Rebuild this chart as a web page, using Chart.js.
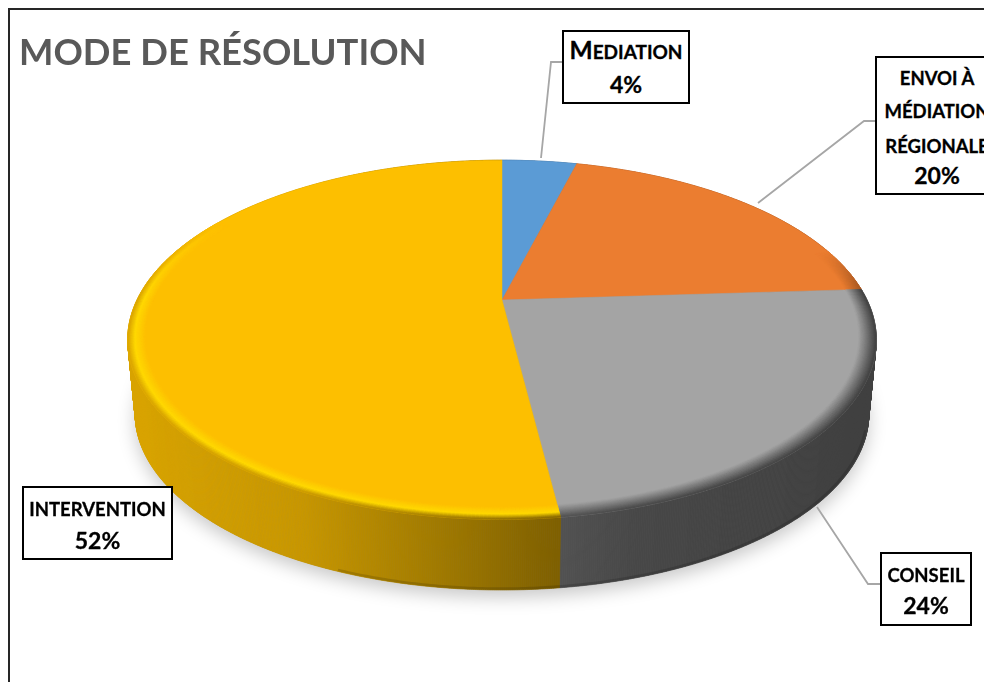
<!DOCTYPE html>
<html lang="fr">
<head>
    <meta charset="UTF-8">
    <title>Mode de résolution</title>
    <script src="https://cdn.jsdelivr.net/npm/chart.js"></script>
    <style>
        html, body { margin: 0; padding: 0; width: 984px; height: 682px; overflow: hidden; background: #fff; }
        canvas { position: absolute; left: 0; top: 0; }
        #frame { position: absolute; left: 8px; top: 8px; width: 1000px; height: 700px; border: 2px solid #262626; pointer-events: none; }
        .box {
            position: absolute; box-sizing: border-box; background: #fff; border: 2px solid #000;
            font-family: Lato, sans-serif; font-weight: 700; color: #000; text-align: center;
            -webkit-text-stroke: 0.3px #000;
        }
        .box div { position: absolute; left: 0; right: 0; line-height: 30px; height: 30px; white-space: nowrap; font-size: 18.5px; }
        .box div.pct { font-size: 23px; }
        .box div.caps { font-size: 19px; }
        .box div.caps::first-letter { font-size: 24.5px; }
    </style>
</head>
<body>
    <canvas id="pie" width="984" height="682"></canvas>
    <div id="frame"></div>
    <script>
        const categories = ['Mediation', 'Envoi à médiation régionale', 'Conseil', 'Intervention'];
        const values = [4, 20, 24, 52];
        const titleText = 'MODE DE RÉSOLUTION';
        const topColors = ['#5B9BD5', '#EB7D30', '#A4A4A4', '#FDBF00'];

        // side wall colours along x, only the last two slices show a wall
        const sideStops = [
            [[130, 0x3f, 0x6c, 0x95], [870, 0x3f, 0x6c, 0x95]],
            [[130, 0xa5, 0x57, 0x22], [870, 0xa5, 0x57, 0x22]],
            [[558, 0x52, 0x52, 0x52], [640, 0x47, 0x47, 0x47], [870, 0x40, 0x40, 0x40]],
            [[130, 0xd9, 0xa4, 0x00], [300, 0xc8, 0x97, 0x00], [420, 0xa6, 0x7e, 0x00], [558, 0x7f, 0x60, 0x00]]
        ];
        // the lit rim only shows on the yellow slice
        const rimHighlight = [null, null, null, [0xff, 0xd9, 0x00]];

        const labelBoxes = [
            { left: 562, top: 30, width: 128, height: 74, lines: [['MEDIATION', 3, 'caps'], [null, 37, 'pct']] },
            { left: 875, top: 56, width: 124, height: 139, lines: [['ENVOI À', 5], ['MÉDIATION', 38], ['RÉGIONALE', 73], [null, 102, 'pct']] },
            { left: 880, top: 552, width: 92, height: 74, lines: [['CONSEIL', 6], [null, 36, 'pct']] },
            { left: 22, top: 486, width: 151, height: 74, lines: [['INTERVENTION', 6], [null, 37, 'pct']] }
        ];
        const leaders = [
            [[541, 158], [551, 62], [562, 62]],
            [[758, 203], [864, 121], [875, 121]],
            [[817, 507], [868, 584], [880, 584]]
        ];

        // perspective view of the unit circle, the pie centre is not the ellipse centre
        const view = { x: 502, y: 300, a: 365, b: 170.8, k: 0.2214 };
        const floor = { y: 375, scale: 0.98 };
        const rimInner = 0.955;
        const STEP = Math.PI / 720;

        function project(angle, r, lower) {
            const u = Math.cos(angle) * r, v = Math.sin(angle) * r;
            const w = 1 - view.k * v;
            const s = lower ? floor.scale : 1;
            const y0 = lower ? floor.y : view.y;
            return [view.x + s * view.a * u / w, y0 + s * view.b * v / w];
        }

        function hexRgb(hex) {
            return [1, 3, 5].map(i => parseInt(hex.substr(i, 2), 16));
        }
        function mix(c1, c2, t) {
            return c1.map((c, i) => c + (c2[i] - c) * t);
        }
        function css(c) {
            return 'rgb(' + c.map(Math.round).join(',') + ')';
        }
        function sideColor(stops, x) {
            if (x <= stops[0][0]) return stops[0].slice(1);
            for (let i = 1; i < stops.length; i++) {
                if (x <= stops[i][0]) {
                    const t = (x - stops[i - 1][0]) / (stops[i][0] - stops[i - 1][0]);
                    return mix(stops[i - 1].slice(1), stops[i].slice(1), t);
                }
            }
            return stops[stops.length - 1].slice(1);
        }
        function clamp01(t) { return Math.max(0, Math.min(1, t)); }

        function quad(ctx, p1, p2, p3, p4, color) {
            ctx.fillStyle = color;
            ctx.strokeStyle = color;
            ctx.lineWidth = 0.7;
            ctx.beginPath();
            ctx.moveTo(p1[0], p1[1]);
            ctx.lineTo(p2[0], p2[1]);
            ctx.lineTo(p3[0], p3[1]);
            ctx.lineTo(p4[0], p4[1]);
            ctx.closePath();
            ctx.fill();
            ctx.stroke();
        }

        const pie3d = {
            id: 'pie3d',
            beforeDatasetDraw(chart, args) {
                const ctx = chart.ctx;
                const arcs = args.meta.data;
                ctx.save();

                // soft shadow under the disc
                ctx.save();
                ctx.shadowColor = 'rgba(0,0,0,0.22)';
                ctx.shadowBlur = 18;
                ctx.shadowOffsetY = 7;
                ctx.fillStyle = '#888';
                ctx.beginPath();
                for (let a = 0; a < Math.PI * 2; a += STEP * 4) {
                    const p = project(a, 1, true);
                    ctx.lineTo(p[0], p[1]);
                }
                ctx.closePath();
                ctx.fill();
                ctx.restore();

                // side walls
                arcs.forEach((arc, i) => {
                    for (let a = arc.startAngle; a < arc.endAngle; a += STEP) {
                        const b = Math.min(a + STEP, arc.endAngle);
                        const t1 = project(a, 1, false), t2 = project(b, 1, false);
                        const l1 = project(a, 1, true), l2 = project(b, 1, true);
                        quad(ctx, t1, t2, l2, l1, css(sideColor(sideStops[i], t1[0])));
                    }
                });

                // darker lip along the bottom of the wall
                ctx.lineWidth = 2.5;
                ctx.strokeStyle = 'rgba(0,0,0,0.14)';
                ctx.beginPath();
                for (let a = Math.PI * 0.1; a < Math.PI * 0.62; a += STEP * 2) {
                    const p = project(a, 0.995, true);
                    ctx.lineTo(p[0], p[1]);
                }
                ctx.stroke();

                // top faces
                arcs.forEach((arc, i) => {
                    ctx.fillStyle = topColors[i];
                    ctx.strokeStyle = topColors[i];
                    ctx.lineWidth = 0.5;
                    ctx.beginPath();
                    ctx.moveTo(view.x, view.y);
                    for (let a = arc.startAngle; a < arc.endAngle; a += STEP) {
                        const p = project(a, 1, false);
                        ctx.lineTo(p[0], p[1]);
                    }
                    const e = project(arc.endAngle, 1, false);
                    ctx.lineTo(e[0], e[1]);
                    ctx.closePath();
                    ctx.fill();
                    ctx.stroke();
                });

                // bevelled rim, fades out toward the back of the disc
                const rings = 16;
                arcs.forEach((arc, i) => {
                    const flat = hexRgb(topColors[i]);
                    const bright = rimHighlight[i];
                    for (let a = arc.startAngle; a < arc.endAngle; a += STEP * 2) {
                        const b = Math.min(a + STEP * 2, arc.endAngle);
                        const deg = (a + Math.PI / 2) * 180 / Math.PI;
                        const fade = clamp01((deg - 72) / 14) * clamp01((300 - deg) / 30);
                        if (fade <= 0) continue;
                        const edge = sideColor(sideStops[i], project(a, 1, false)[0]);
                        for (let n = 0; n < rings; n++) {
                            const r1 = rimInner + (1 - rimInner) * n / rings;
                            const r2 = rimInner + (1 - rimInner) * (n + 1) / rings;
                            const t = (n + 0.5) / rings;
                            let c;
                            if (bright) {
                                c = t < 0.6 ? mix(flat, bright, t / 0.6) : mix(bright, edge, (t - 0.6) / 0.4);
                            } else {
                                c = mix(flat, edge, t);
                            }
                            c = mix(flat, c, fade);
                            quad(ctx, project(a, r1), project(b, r1), project(b, r2), project(a, r2), css(c));
                        }
                    }
                });

                ctx.restore();
                return false;
            },
            afterDraw(chart) {
                const ctx = chart.ctx;
                ctx.save();
                ctx.strokeStyle = '#A6A6A6';
                ctx.lineWidth = 1.8;
                leaders.forEach(line => {
                    ctx.beginPath();
                    line.forEach((p, i) => i ? ctx.lineTo(p[0], p[1]) : ctx.moveTo(p[0], p[1]));
                    ctx.stroke();
                });
                ctx.restore();
            }
        };

        new Chart(document.getElementById('pie'), {
            type: 'pie',
            data: {
                labels: categories,
                datasets: [{ data: values, backgroundColor: topColors, borderWidth: 0 }]
            },
            options: {
                responsive: false,
                animation: false,
                devicePixelRatio: 1,
                layout: { padding: { left: 19 } },
                plugins: {
                    legend: { display: false },
                    tooltip: { enabled: false },
                    title: {
                        display: true,
                        text: titleText,
                        align: 'start',
                        color: '#595959',
                        font: { family: 'Lato', size: 36.4, weight: '700' },
                        padding: { top: 31, bottom: 0 }
                    }
                }
            },
            plugins: [pie3d]
        });

        // data labels, same text as the chart data plus the share
        const total = values.reduce((s, v) => s + v, 0);
        labelBoxes.forEach((box, i) => {
            const el = document.createElement('div');
            el.className = 'box';
            el.style.cssText = 'left:' + box.left + 'px;top:' + box.top + 'px;width:' + box.width + 'px;height:' + box.height + 'px';
            box.lines.forEach(line => {
                const row = document.createElement('div');
                row.textContent = line[0] === null ? Math.round(values[i] / total * 100) + '%' : line[0];
                row.style.top = line[1] + 'px';
                if (line[2]) row.className = line[2];
                el.appendChild(row);
            });
            document.body.appendChild(el);
        });
    </script>
</body>
</html>
